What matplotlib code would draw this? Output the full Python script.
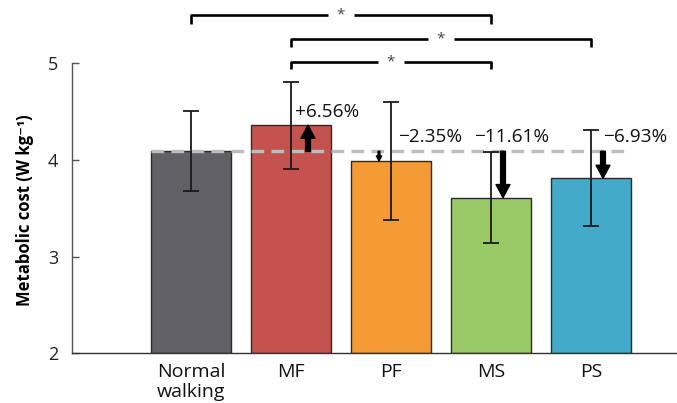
import matplotlib
matplotlib.use("Agg")
import matplotlib.pyplot as plt
from matplotlib.patches import FancyArrowPatch

plt.rcParams['font.family'] = ['Open Sans', 'DejaVu Sans']

categories = ["Normal\nwalking", "MF", "PF", "MS", "PS"]
means = [4.09, 4.36, 3.99, 3.61, 3.81]
errors = [0.415, 0.45, 0.61, 0.47, 0.495]
colors = ["#626165", "#C4524F", "#F49B36", "#9ACA68", "#44AACA"]
pct_labels = ["+6.56%", "\u22122.35%", "\u221211.61%", "\u22126.93%"]
pct_label_x = [1.04, 2.07, 2.83, 4.12]
pct_label_y = [4.50, 4.24, 4.24, 4.24]
arrow_x = [1.17, 1.88, 3.12, 4.12]
arrow_scale = [10.5, 4, 10.5, 10.5]
# significance brackets: (left index, right index, bar height, leg bottom)
brackets = [(0, 3, 5.50, 5.41), (1, 4, 5.25, 5.17), (1, 3, 5.015, 4.94)]

fig = plt.figure(figsize=(6.77, 4.03), dpi=100)
ax = fig.add_axes([72/677, (403-353.3)/403, (677-72)/677, 353.3/403])
x = list(range(len(categories)))
ax.bar(x, [m - 2 for m in means], bottom=2, width=0.8, color=colors,
       edgecolor="#2b2b2b", linewidth=1.0, zorder=2)
ax.errorbar(x, means, yerr=errors, fmt="none", ecolor="#1a1a1a",
            elinewidth=1.3, capsize=6, capthick=1.3, zorder=4)

base = means[0]
ax.plot([-0.4, 4.34], [base, base], color="#BDBDBD", lw=2.4,
        linestyle=(0, (3.8, 2.2)), zorder=3)

for i in range(1, 5):
    ax.add_patch(FancyArrowPatch((arrow_x[i-1], base), (arrow_x[i-1], means[i]),
                 arrowstyle="simple,head_length=0.9,head_width=0.95,tail_width=0.33",
                 mutation_scale=arrow_scale[i-1], color="black",
                 shrinkA=0, shrinkB=0, zorder=5))
    ax.text(pct_label_x[i-1], pct_label_y[i-1], pct_labels[i-1], fontsize=13.7,
            ha="left", va="center", color="#111111", zorder=6)

for (a, b, h, lo) in brackets:
    mid = (a + b) / 2
    gap = 0.13
    kw = dict(color="black", lw=1.9, clip_on=False, solid_capstyle="butt")
    ax.plot([a, a, mid - gap], [lo, h, h], **kw)
    ax.plot([mid + gap, b, b], [h, h, lo], **kw)
    ax.text(mid, h, "*", ha="center", va="center", fontsize=11, color="#444444")

ax.set_xlim(-1.19, 4.86)
ax.set_ylim(2, 5.655)
ax.spines['top'].set_visible(False)
ax.spines['right'].set_visible(False)
ax.spines['left'].set_bounds(2, 5)
ax.spines['left'].set_color("#555555")
ax.spines['bottom'].set_color("#333333")
ax.spines['left'].set_linewidth(1.0)
ax.spines['bottom'].set_linewidth(1.0)
ax.set_yticks([2, 3, 4, 5])
ax.set_yticklabels(["2", "3", "4", "5"])
ax.tick_params(axis='y', direction='in', length=5, width=1, color="#555555",
               pad=10, labelsize=13, labelcolor="#222222")
ax.set_xticks(x)
ax.set_xticklabels(categories, linespacing=1.12)
ax.tick_params(axis='x', length=0, pad=7, labelsize=14, labelcolor="#111111")
ax.set_ylabel("Metabolic cost (W kg\u207b\u00b9)", fontsize=12, fontweight="bold")
ax.yaxis.set_label_coords(-0.063, 0.406)

fig.savefig("out.png", dpi=100)
